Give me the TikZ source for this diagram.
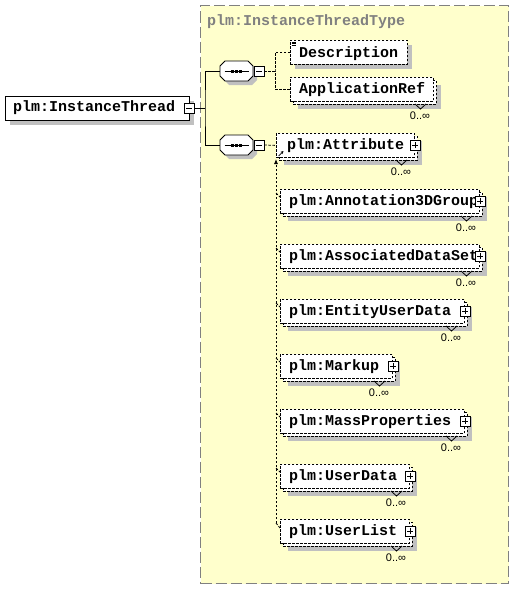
\documentclass[tikz,border=0pt]{standalone}
\usepackage{fontspec}
\newfontfamily\elfont{Liberation Mono}
\newfontfamily\lblfont{Liberation Sans}
\usetikzlibrary{arrows.meta}
\definecolor{bgyellow}{HTML}{FFFFCC}
\definecolor{shadowgray}{HTML}{C0C0C0}
\definecolor{framegray}{HTML}{808080}
\tikzset{
 elbox/.style={draw, fill=white, dash pattern=on 2.5pt off 1.5pt, line width=0.8pt, inner sep=0pt, anchor=north west},
 solidbox/.style={draw, fill=white, line width=0.9pt, inner sep=0pt, anchor=north west},
 eltext/.style={font=\elfont\bfseries\fontsize{15}{15}\selectfont, inner sep=0pt, anchor=base west},
 multlbl/.style={font=\lblfont\fontsize{11}{11}\selectfont, inner sep=0pt},
 conn/.style={line width=0.8pt, dash pattern=on 2.5pt off 1.5pt},
 solidconn/.style={line width=0.9pt},
 pmbox/.style={draw, fill=white, line width=0.8pt, minimum size=10pt, inner sep=0pt},
}
% minus box
\newcommand\minusat[3]{%
 \node[pmbox] (#1) at (#2,#3) {};
 \draw[line width=0.8pt] ([xshift=-3pt]#1.center) -- ([xshift=3pt]#1.center);
}
% plus box
\newcommand\plusat[3]{%
 \node[pmbox] (#1) at (#2,#3) {};
 \draw[line width=0.8pt] ([xshift=-3pt]#1.center) -- ([xshift=3pt]#1.center);
 \draw[line width=0.8pt] ([yshift=-3pt]#1.center) -- ([yshift=3pt]#1.center);
}
% element with multiplicity: name, x1, y1, R (back right), text x, text
\newcommand\multel[6]{%
 \pgfmathsetmacro\wf{#4-3-(#2)}%
 \fill[shadowgray] (#2+8,#3+8) rectangle (#4+5,#3+32);
 \draw[fill=white, dash pattern=on 2.5pt off 1.5pt, line width=0.8pt] (#2+3,#3+3) rectangle (#4,#3+27);
 \node[elbox, minimum width=\wf pt, minimum height=24pt] (#1) at (#2,#3) {};
 \node[eltext] at (#5,#3+16) {#6};
 \draw[line width=0.8pt] (#4-21,#3+27) -- (#4-15.5,#3+32) -- (#4-10,#3+27);
 \node[multlbl] at (#4-16,#3+39) {0..∞};
}
% sequence compositor
\newcommand\seqshape[3]{%
 \fill[shadowgray] (#2-16.5+4,#3-5+4) -- (#2-11.5+4,#3-10+4) -- (#2+11.5+4,#3-10+4) -- (#2+16.5+4,#3-5+4) -- (#2+16.5+4,#3+5+4) -- (#2+11.5+4,#3+10+4) -- (#2-11.5+4,#3+10+4) -- (#2-16.5+4,#3+5+4) -- cycle;
 \node[inner sep=0pt, minimum width=33pt, minimum height=20pt] (#1) at (#2,#3) {};
 \draw[fill=white, line width=0.9pt] (#2-16.5,#3-5) -- (#2-11.5,#3-10) -- (#2+11.5,#3-10) -- (#2+16.5,#3-5) -- (#2+16.5,#3+5) -- (#2+11.5,#3+10) -- (#2-11.5,#3+10) -- (#2-16.5,#3+5) -- cycle;
 \draw[line width=0.9pt] (#2-12,#3) -- (#2+12,#3);
 \fill (#2-5.25,#3-1.5) rectangle ++(2.5,3);
 \fill (#2-1.25,#3-1.5) rectangle ++(2.5,3);
 \fill (#2+2.75,#3-1.5) rectangle ++(2.5,3);
}
\begin{document}
\begin{tikzpicture}[x=1pt,y=-1pt]
\useasboundingbox (0,0) rectangle (515,589);
% type frame
\node[draw=framegray, fill=bgyellow, line width=1pt, dash pattern=on 11pt off 4pt, minimum width=308pt, minimum height=578pt, inner sep=0pt, anchor=north west] (frame) at (200,5) {};
\node[eltext, text=framegray] (title) at (207,25) {plm:InstanceThreadType};

% main element
\fill[shadowgray] (10,101) rectangle (194,125);
\node[solidbox, minimum width=184pt, minimum height=24pt] (main) at (5,96) {};
\node[eltext] (maintext) at (13,111.5) {plm:InstanceThread};
\minusat{mainm}{189}{108}

% sequences
\seqshape{seqA}{236.5}{71}
\minusat{seqAm}{259}{71}
\seqshape{seqB}{236.5}{145}
\minusat{seqBm}{259}{145}
\coordinate (j) at (205,108);
\draw[solidconn] (mainm.east) -- (j);
\draw[solidconn] (seqA.west) -| (j) |- (seqB.west);

% Description
\fill[shadowgray] (295,45) rectangle (412,69);
\node[elbox, minimum width=117pt, minimum height=24pt] (desc) at (290,40) {};
\node[eltext] at (299,57) {Description};
\draw[line width=0.6pt] (291.5,41.8) -- (296,41.8) (291.5,43.4) -- (296,43.4) (291.5,45) -- (296,45);

% ApplicationRef
\multel{appref}{290}{77}{436}{299}{ApplicationRef}

\coordinate (ca) at (275,71);
\draw[conn] (seqAm.east) -- (ca);
\draw[conn] (desc.west) -| (ca) |- (appref.west);

% Attribute (head)
\multel{attr}{276}{133}{417}{287}{plm:Attribute}
\plusat{attrp}{415}{145}
\draw[line width=0.7pt, -{Stealth[length=3pt,width=3pt]}] (278.5,156) -- (283.5,151);
\draw[conn] (seqBm.east) -- (attr.west);

% substitution members
\multel{ann}{280}{189}{482}{289}{plm:Annotation3DGroup}
\plusat{annp}{480}{201}
\multel{ads}{280}{244}{482}{289}{plm:AssociatedDataSet}
\plusat{adsp}{480}{256}
\multel{eud}{280}{299}{467}{289}{plm:EntityUserData}
\plusat{eudp}{465}{311}
\multel{mk}{280}{354}{395}{289}{plm:Markup}
\plusat{mkp}{393}{366}
\multel{mp}{280}{409}{467}{289}{plm:MassProperties}
\plusat{mpp}{465}{421}
\multel{ud}{280}{464}{412}{289}{plm:UserData}
\plusat{udp}{410}{476}
\multel{ul}{280}{519}{412}{289}{plm:UserList}
\plusat{ulp}{410}{531}

\coordinate (subtop) at (276,159);
\coordinate (subbot) at (276,523);
\draw[conn, -{Latex[length=5pt,width=4pt]}] (subbot) -- (subtop);
\draw[conn] (subbot) -- ([yshift=-9pt]ul.north west);
\foreach \b in {ann,ads,eud,mk,mp,ud}{
  \draw[conn] ([shift={(-4,4)}]\b.north west) -- ([shift={(0,8)}]\b.north west);
}
\end{tikzpicture}
\end{document}
